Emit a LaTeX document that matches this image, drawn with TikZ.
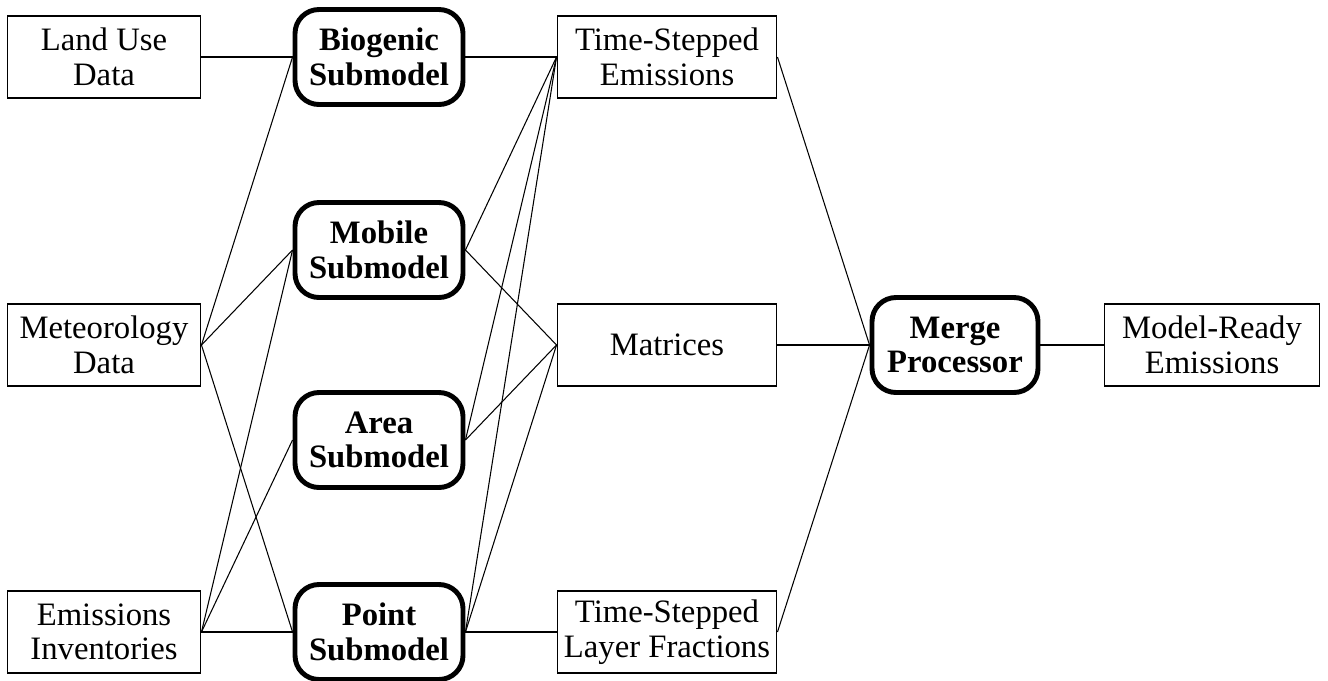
\documentclass[tikz,border=0pt]{standalone}
\usepackage{fontspec}
\setmainfont{Liberation Serif}
\usetikzlibrary{positioning}

\tikzset{
  databox/.style={draw, line width=0.55pt, minimum width=1.93cm, minimum height=0.82cm,
    align=center, inner sep=0pt, font=\fontsize{9.3}{9.8}\selectfont},
  outbox/.style={databox, minimum width=2.19cm},
  subbox/.style={draw, line width=1.4pt, rounded corners=0.24cm, minimum width=1.68cm,
    minimum height=0.95cm, align=center, inner sep=0pt, font=\fontsize{9.3}{9.8}\selectfont\bfseries},
  link/.style={line width=0.3pt}
}

\begin{document}
\begin{tikzpicture}
  \useasboundingbox (0,0) rectangle (13.28,6.80);

  % inputs
  \node[databox] (land) at (1.04,6.23) {Land Use\\Data};
  \node[databox] (met)  at (1.04,3.35) {Meteorology\\Data};
  \node[databox] (emis) at (1.04,0.48) {Emissions\\Inventories};

  % submodels
  \node[subbox] (bio)   at (3.79,6.23) {Biogenic\\Submodel};
  \node[subbox] (mob)   at (3.79,4.30) {Mobile\\Submodel};
  \node[subbox] (area)  at (3.79,2.40) {Area\\Submodel};
  \node[subbox] (point) at (3.79,0.48) {Point\\Submodel};

  % outputs
  \node[outbox] (tse)  at (6.67,6.23) {Time-Stepped\\Emissions};
  \node[outbox] (mat)  at (6.67,3.35) {Matrices};
  \node[outbox] (tslf) at (6.67,0.48) {Time-Stepped\\Layer Fractions};

  \node[subbox, minimum width=1.66cm] (merge) at (9.55,3.35) {Merge\\Processor};
  \node[outbox, minimum width=2.15cm] (ready) at (12.12,3.35) {Model-Ready\\Emissions};

  % inputs to submodels
  \draw[link] (land.east) -- (bio.west);
  \draw[link] (met.east) -- (bio.west);
  \draw[link] (met.east) -- (mob.west);
  \draw[link] (met.east) -- (point.west);
  \draw[link] (emis.east) -- (mob.west);
  \draw[link] (emis.east) -- (area.west);
  \draw[link] (emis.east) -- (point.west);

  % submodels to outputs
  \draw[link] (bio.east) -- (tse.west);
  \draw[link] (mob.east) -- (tse.west);
  \draw[link] (mob.east) -- (mat.west);
  \draw[link] (area.east) -- (tse.west);
  \draw[link] (area.east) -- (mat.west);
  \draw[link] (point.east) -- (tse.west);
  \draw[link] (point.east) -- (mat.west);
  \draw[link] (point.east) -- (tslf.west);

  % merge
  \draw[link] (tse.east) -- (merge.west);
  \draw[link] (mat.east) -- (merge.west);
  \draw[link] (tslf.east) -- (merge.west);
  \draw[link] (merge.east) -- (ready.west);
\end{tikzpicture}
\end{document}
